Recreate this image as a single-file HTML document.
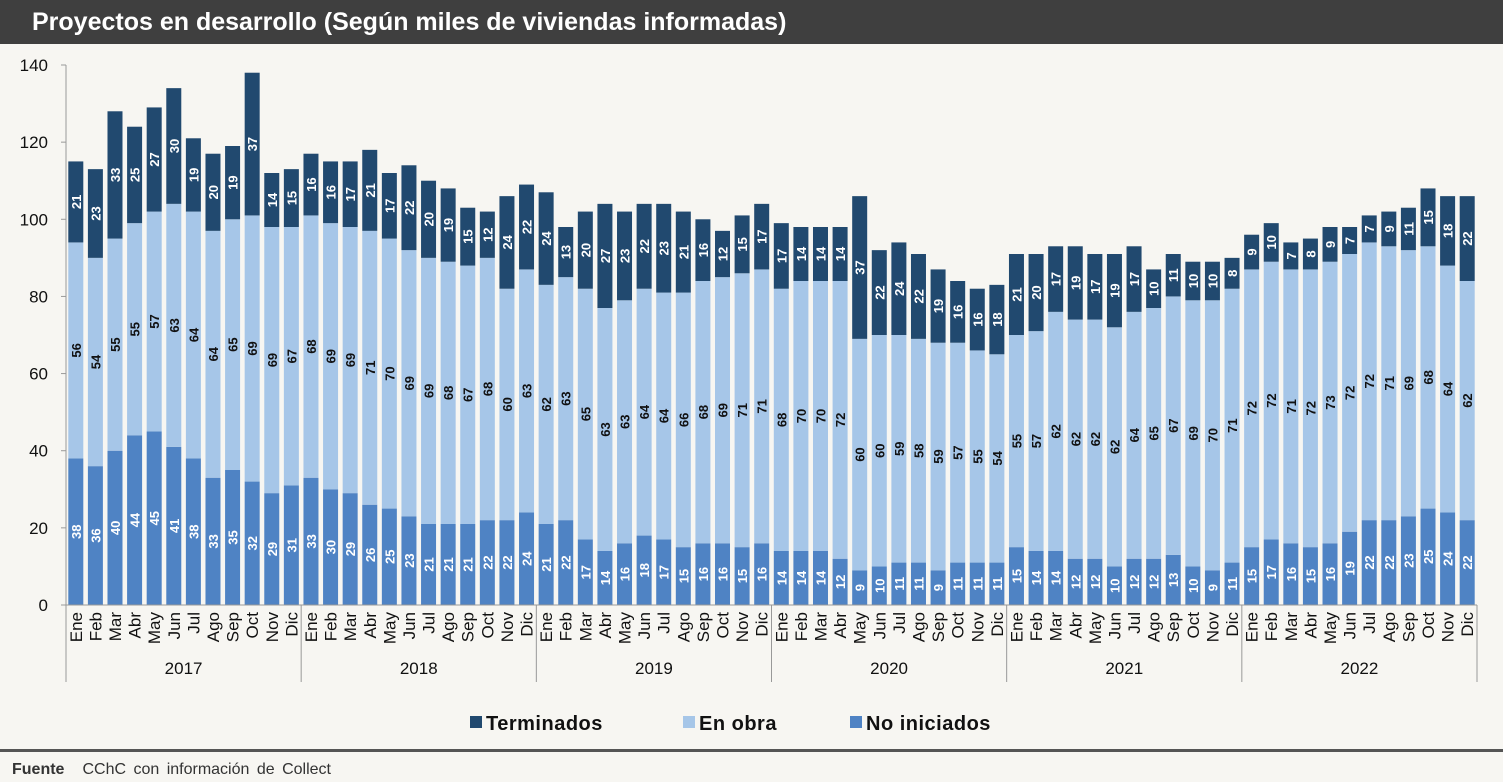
<!DOCTYPE html>
<html><head><meta charset="utf-8"><style>
body{margin:0;background:#f7f6f2;font-family:"Liberation Sans",sans-serif;}
#wrap{position:relative;width:1503px;height:782px;overflow:hidden;background:#f7f6f2}
#title{position:absolute;left:0;top:0;width:1503px;height:44px;background:#3f3f3f;color:#fff;font-weight:bold;font-size:25px;line-height:44px;padding-left:32px;box-sizing:border-box}
svg text{font-family:"Liberation Sans",sans-serif}
</style></head><body>
<div id="wrap">
<div id="title">Proyectos en desarrollo (Según miles de viviendas informadas)</div>
<svg id="chart" width="1503" height="782" style="position:absolute;left:0;top:0"></svg>
</div>
<script>
const years=["2017","2018","2019","2020","2021","2022"];
const months=["Ene","Feb","Mar","Abr","May","Jun","Jul","Ago","Sep","Oct","Nov","Dic"];
const noIniciados=[38,36,40,44,45,41,38,33,35,32,29,31, 33,30,29,26,25,23,21,21,21,22,22,24, 21,22,17,14,16,18,17,15,16,16,15,16, 14,14,14,12,9,10,11,11,9,11,11,11, 15,14,14,12,12,10,12,12,13,10,9,11, 15,17,16,15,16,19,22,22,23,25,24,22];
const enObra=[56,54,55,55,57,63,64,64,65,69,69,67, 68,69,69,71,70,69,69,68,67,68,60,63, 62,63,65,63,63,64,64,66,68,69,71,71, 68,70,70,72,60,60,59,58,59,57,55,54, 55,57,62,62,62,62,64,65,67,69,70,71, 72,72,71,72,73,72,72,71,69,68,64,62];
const terminados=[21,23,33,25,27,30,19,20,19,37,14,15, 16,16,17,21,17,22,20,19,15,12,24,22, 24,13,20,27,23,22,23,21,16,12,15,17, 17,14,14,14,37,22,24,22,19,16,16,18, 21,20,17,19,17,19,17,10,11,10,10,8, 9,10,7,8,9,7,7,9,11,15,18,22];
const yTicks=[0,20,40,60,80,100,120,140];

const NS="http://www.w3.org/2000/svg";
const svg=document.getElementById('chart');
const X0=66,X1=1477,Y0=605,YT=65,YMAX=140;
const n=noIniciados.length, slot=(X1-X0)/n, bw=15;
const y=v=>Y0-v*(Y0-YT)/YMAX;
const xs=i=>X0+slot*i+slot/2;
function mk(t,a,p){const e=document.createElementNS(NS,t);for(const k in a)e.setAttribute(k,a[k]);(p||svg).appendChild(e);return e;}
const C={ni:"#4f83c4",eo:"#a6c6e8",t:"#21496f"};

yTicks.forEach(v=>{
 const t=mk('text',{x:48,y:y(v)+6,'text-anchor':'end','font-size':17,fill:'#111'});t.textContent=v;
 
 
 const l=mk('line',{x1:61,x2:66,y1:y(v),y2:y(v),stroke:'#999'});
 
 
});
const ax=mk('line',{x1:X0,x2:X0,y1:YT,y2:Y0,stroke:'#999'});



function seg(i,base,val,color,txtColor,name){
 const r=mk('rect',{x:xs(i)-bw/2,y:y(base+val),width:bw,height:y(base)-y(base+val),fill:color});
 
 
 const ty=(y(base+val)+y(base))/2;
 const t=mk('text',{transform:`translate(${xs(i)+5},${ty}) rotate(-90)`,'text-anchor':'middle','font-size':13,'font-weight':'bold',fill:txtColor});
 t.textContent=val;
 
 
}
for(let i=0;i<n;i++){
 seg(i,0,noIniciados[i],C.ni,'#fff','no-iniciados');
 seg(i,noIniciados[i],enObra[i],C.eo,'#111','en-obra');
 seg(i,noIniciados[i]+enObra[i],terminados[i],C.t,'#fff','terminados');
 const m=mk('text',{transform:`translate(${xs(i)+6},${Y0+7}) rotate(-90)`,'text-anchor':'end','font-size':17,fill:'#111'});
 m.textContent=months[i%12];
 
 
}
const bl=mk('line',{x1:X0,x2:X1,y1:Y0,y2:Y0,stroke:'#999'});


years.forEach((yr,k)=>{
 const xa=X0+slot*12*k;
 const l=mk('line',{x1:xa,x2:xa,y1:Y0,y2:682,stroke:'#999'});
 
 
 const t=mk('text',{x:xa+slot*6,y:674,'text-anchor':'middle','font-size':17,fill:'#111'});
 t.textContent=yr;
 
 
});
const le=mk('line',{x1:X1,x2:X1,y1:Y0,y2:682,stroke:'#999'});



[["Terminados",C.t,470],["En obra",C.eo,683],["No iniciados",C.ni,850]].forEach(([lab,c,x])=>{
 const g=mk('g',{});
 
 
 mk('rect',{x:x,y:716,width:12,height:12,fill:c},g);
 const t=mk('text',{x:x+16,y:730,'font-size':20,'font-weight':'bold',fill:'#111','letter-spacing':'0.5'},g);t.textContent=lab;
});
const fl=mk('rect',{x:0,y:749,width:1503,height:3,fill:'#555'});


const f=mk('text',{x:12,y:774,'font-size':16,fill:'#333'});


f.innerHTML='<tspan font-weight="bold">Fuente</tspan><tspan dx="18" word-spacing="3">CChC con información de Collect</tspan>';
</script>
</body></html>
